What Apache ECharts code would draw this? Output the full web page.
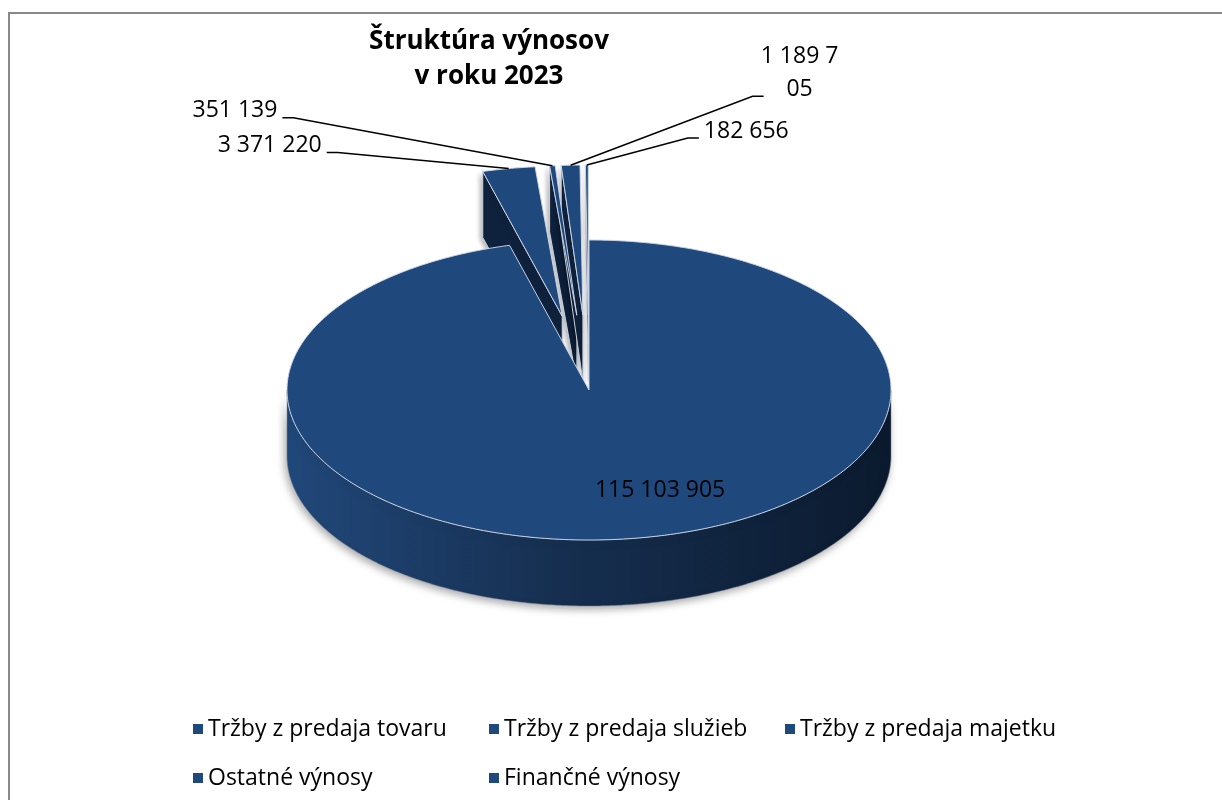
<!DOCTYPE html>
<html>
<head>
<meta charset="utf-8">
<title>Štruktúra výnosov v roku 2023</title>
<script src="https://cdn.jsdelivr.net/npm/echarts@6/dist/echarts.min.js"></script>
<style>
	html, body { margin: 0; padding: 0; background: #fff; }
	#chart { width: 1222px; height: 800px; }
</style>
</head>
<body>
<div id="chart"></div>
<script>
// údaje
var categories = ['Tržby z predaja tovaru', 'Tržby z predaja služieb', 'Tržby z predaja majetku', 'Ostatné výnosy', 'Finančné výnosy'];
var values = [115103905, 3371220, 351139, 1189705, 182656];

// vzhľad koláča (3D elipsa)
var pie = { cx: 589, cy: 390, rx: 302, ry: 150, depth: 66 };
var explode = [0, 0.5, 0.5, 0.5, 0.5];
// umiestnenie popisov: posun zalomenia čiary od okraja výseku
var labelPlace = [
	{ inside: true, dx: 43, dy: -4 },
	{ dx: -171, dy: -16 },
	{ dx: -259, dy: -48 },
	{ dx: 182, dy: -69, wrap: 84 },
	{ dx: 101, dy: -27 }
];

var topColor = '#1f497d';
var wallColor = '#0f223d';
var edgeColor = 'rgba(205,214,230,0.95)';
var labelFont = '23px "Open Sans"';

function fmt(v) {
	return String(v).replace(/\B(?=(\d{3})+(?!\d))/g, ' ');
}

var total = values.reduce(function (a, b) { return a + b; }, 0);
var startAngles = [];
var sweeps = [];
(function () {
	let acc = 0;
	for (let i = 0; i < values.length; i++) {
		startAngles.push(acc / total * Math.PI * 2);
		sweeps.push(values[i] / total * Math.PI * 2);
		acc += values[i];
	}
})();

var sideGradient = new echarts.graphic.LinearGradient(
	pie.cx - pie.rx, 0, pie.cx + pie.rx, 0,
	[
		{ offset: 0, color: '#21487a' },
		{ offset: 0.45, color: '#162f50' },
		{ offset: 1, color: '#0b1a2e' }
	],
	true
);

function renderSlice(params, api) {
	let i = params.seriesIndex;
	let a0 = startAngles[i];
	let a1 = a0 + sweeps[i];
	let mid = (a0 + a1) / 2;
	let c = [
		pie.cx + explode[i] * pie.rx * Math.sin(mid),
		pie.cy - explode[i] * pie.ry * Math.cos(mid)
	];
	function pt(t, k, d) {
		return [c[0] + k * pie.rx * Math.sin(t), c[1] - k * pie.ry * Math.cos(t) + (d || 0)];
	}
	function arc(t0, t1, d) {
		let n = Math.max(2, Math.ceil(Math.abs(t1 - t0) / 0.01));
		let pts = [];
		for (let j = 0; j <= n; j++) pts.push(pt(t0 + (t1 - t0) * j / n, 1, d));
		return pts;
	}
	// zadné výseky kresliť skôr
	let base = Math.round((1 - Math.cos(mid)) * 50) * 10;
	let children = [];

	// vonkajšia stena (iba predná časť)
	let s0 = Math.max(a0, Math.PI / 2);
	let s1 = Math.min(a1, Math.PI * 1.5);
	if (s1 > s0) {
		children.push({
			type: 'polygon',
			z2: base + 1,
			shape: { points: arc(s0, s1, 0).concat(arc(s1, s0, pie.depth)) },
			style: {
				fill: sideGradient,
				stroke: 'rgba(120,130,145,0.5)',
				lineWidth: 1,
				shadowBlur: 8,
				shadowOffsetX: -2,
				shadowOffsetY: 3,
				shadowColor: 'rgba(0,0,0,0.35)'
			}
		});
	}
	// rezné steny
	let cuts = [];
	if (Math.sin(a0) < -1e-6) cuts.push(a0);
	if (Math.sin(a1) > 1e-6) cuts.push(a1);
	cuts.forEach(function (t) {
		let p = pt(t, 1, 0);
		children.push({
			type: 'polygon',
			z2: base + 2,
			shape: { points: [c, p, [p[0], p[1] + pie.depth], [c[0], c[1] + pie.depth]] },
			style: {
				fill: wallColor,
				stroke: edgeColor,
				lineWidth: 1,
				shadowBlur: 5,
				shadowOffsetX: -2,
				shadowOffsetY: 2,
				shadowColor: 'rgba(0,0,0,0.3)'
			}
		});
	});
	// horná plocha
	children.push({
		type: 'polygon',
		z2: base + 5,
		shape: { points: [c].concat(arc(a0, a1, 0)) },
		style: { fill: topColor, stroke: edgeColor, lineWidth: 1 }
	});

	// popis
	let place = labelPlace[i];
	let txt = fmt(api.value(0));
	if (place.inside) {
		let a = pt(mid, 0.7, 0);
		children.push({
			type: 'text',
			z2: 9000,
			x: a[0] + place.dx,
			y: a[1] + place.dy,
			style: { text: txt, fill: '#000', font: labelFont, align: 'center', verticalAlign: 'middle' }
		});
	} else {
		let s = pt(mid, 1, 0);
		let knee = [s[0] + place.dx, s[1] + place.dy];
		let dir = place.dx < 0 ? -1 : 1;
		let end = [knee[0] + dir * 11, knee[1]];
		children.push({
			type: 'polyline',
			z2: 8000,
			shape: { points: [s, knee, end] },
			style: { stroke: '#000', lineWidth: 1.5, fill: null }
		});
		let st = { text: txt, fill: '#000', font: labelFont, lineHeight: 33, verticalAlign: 'bottom' };
		let x = end[0] + dir * 5;
		if (place.wrap) {
			st.width = place.wrap;
			st.overflow = 'breakAll';
			st.align = 'center';
			x = end[0] + dir * (place.wrap / 2 - 6);
		} else {
			st.align = dir < 0 ? 'right' : 'left';
		}
		children.push({ type: 'text', z2: 9000, x: x, y: end[1] + 9.5, style: st });
	}
	return { type: 'group', children: children };
}

(function () {
	let myChart = echarts.init(document.getElementById('chart'));
	let series = categories.map(function (name, i) {
		return {
			name: name,
			type: 'custom',
			coordinateSystem: 'none',
			itemStyle: { color: topColor },
			renderItem: renderSlice,
			data: [values[i]]
		};
	});
	let option = {
		animation: false,
		title: {
			text: 'Štruktúra výnosov\nv roku 2023',
			left: 484,
			top: 19,
			textAlign: 'center',
			textStyle: {
				fontFamily: 'Open Sans',
				fontSize: 26,
				fontWeight: 'bold',
				color: '#000',
				lineHeight: 35
			}
		},
		legend: {
			data: categories,
			left: 188,
			top: 707,
			width: 890,
			icon: 'rect',
			itemWidth: 10,
			itemHeight: 10,
			itemGap: 15,
			textStyle: {
				fontFamily: 'Open Sans',
				fontSize: 23,
				color: '#000',
				width: 266,
				lineHeight: 34
			}
		},
		// rámček grafu
		graphic: [{
			type: 'rect',
			shape: { x: 9, y: 13, width: 1240, height: 820 },
			style: { fill: 'none', stroke: '#888', lineWidth: 2 },
			silent: true
		}],
		series: series
	};
	myChart.setOption(option);
	window.addEventListener('resize', function () {
		myChart.resize();
	});
})();
</script>
</body>
</html>
